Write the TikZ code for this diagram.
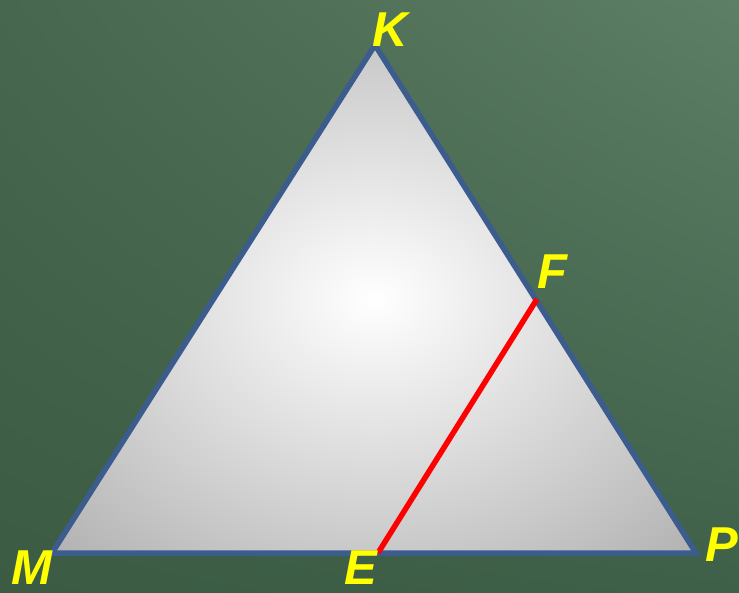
\documentclass[tikz,border=0pt]{standalone}
\usepackage{fontspec}
\setmainfont{Liberation Sans}
\usetikzlibrary{shadings}

\definecolor{boardll}{HTML}{3B5B43}
\definecolor{boardlr}{HTML}{3F6048}
\definecolor{boardul}{HTML}{47674E}
\definecolor{boardur}{HTML}{5D7F66}
\definecolor{sideblue}{HTML}{3B5C8C}
\definecolor{lblyellow}{HTML}{FFFF00}

\pgfdeclareradialshading{trishade}{\pgfpoint{0bp}{0bp}}{color(0bp)=(white); color(35bp)=(black!30); color(50bp)=(black!42); color(70bp)=(black!50)}

\tikzset{
  side/.style={draw=sideblue, line width=5.5pt, line join=miter},
  segment/.style={draw=red, line width=5.5pt},
  lbl/.style={text=lblyellow, inner sep=0pt, font=\fontsize{49}{49}\selectfont\bfseries\itshape}
}

\begin{document}
\begin{tikzpicture}[x=1pt, y=-1pt]
  % board
  \shade[lower left=boardll, lower right=boardlr, upper left=boardul, upper right=boardur] (0,0) rectangle (739,593);
  \useasboundingbox (0,0) rectangle (739,593);

  \coordinate (M) at (52,553);
  \coordinate (K) at (375,45);
  \coordinate (P) at (696,553);
  \coordinate (E) at (378,553);
  \coordinate (F) at (537,299);

  % triangle
  \shade[shading=trishade] (M) -- (K) -- (P) -- cycle;
  \draw[side] (M) -- (K) -- (P) -- cycle;
  \draw[segment] (E) -- (F);

  \node[lbl] (KL) at (390,30) {K};
  \node[lbl] (FL) at (552,272) {F};
  \node[lbl] (ML) at (32,568) {M};
  \node[lbl] (EL) at (361,568) {E};
  \node[lbl] (PL) at (722,545) {P};
\end{tikzpicture}
\end{document}
